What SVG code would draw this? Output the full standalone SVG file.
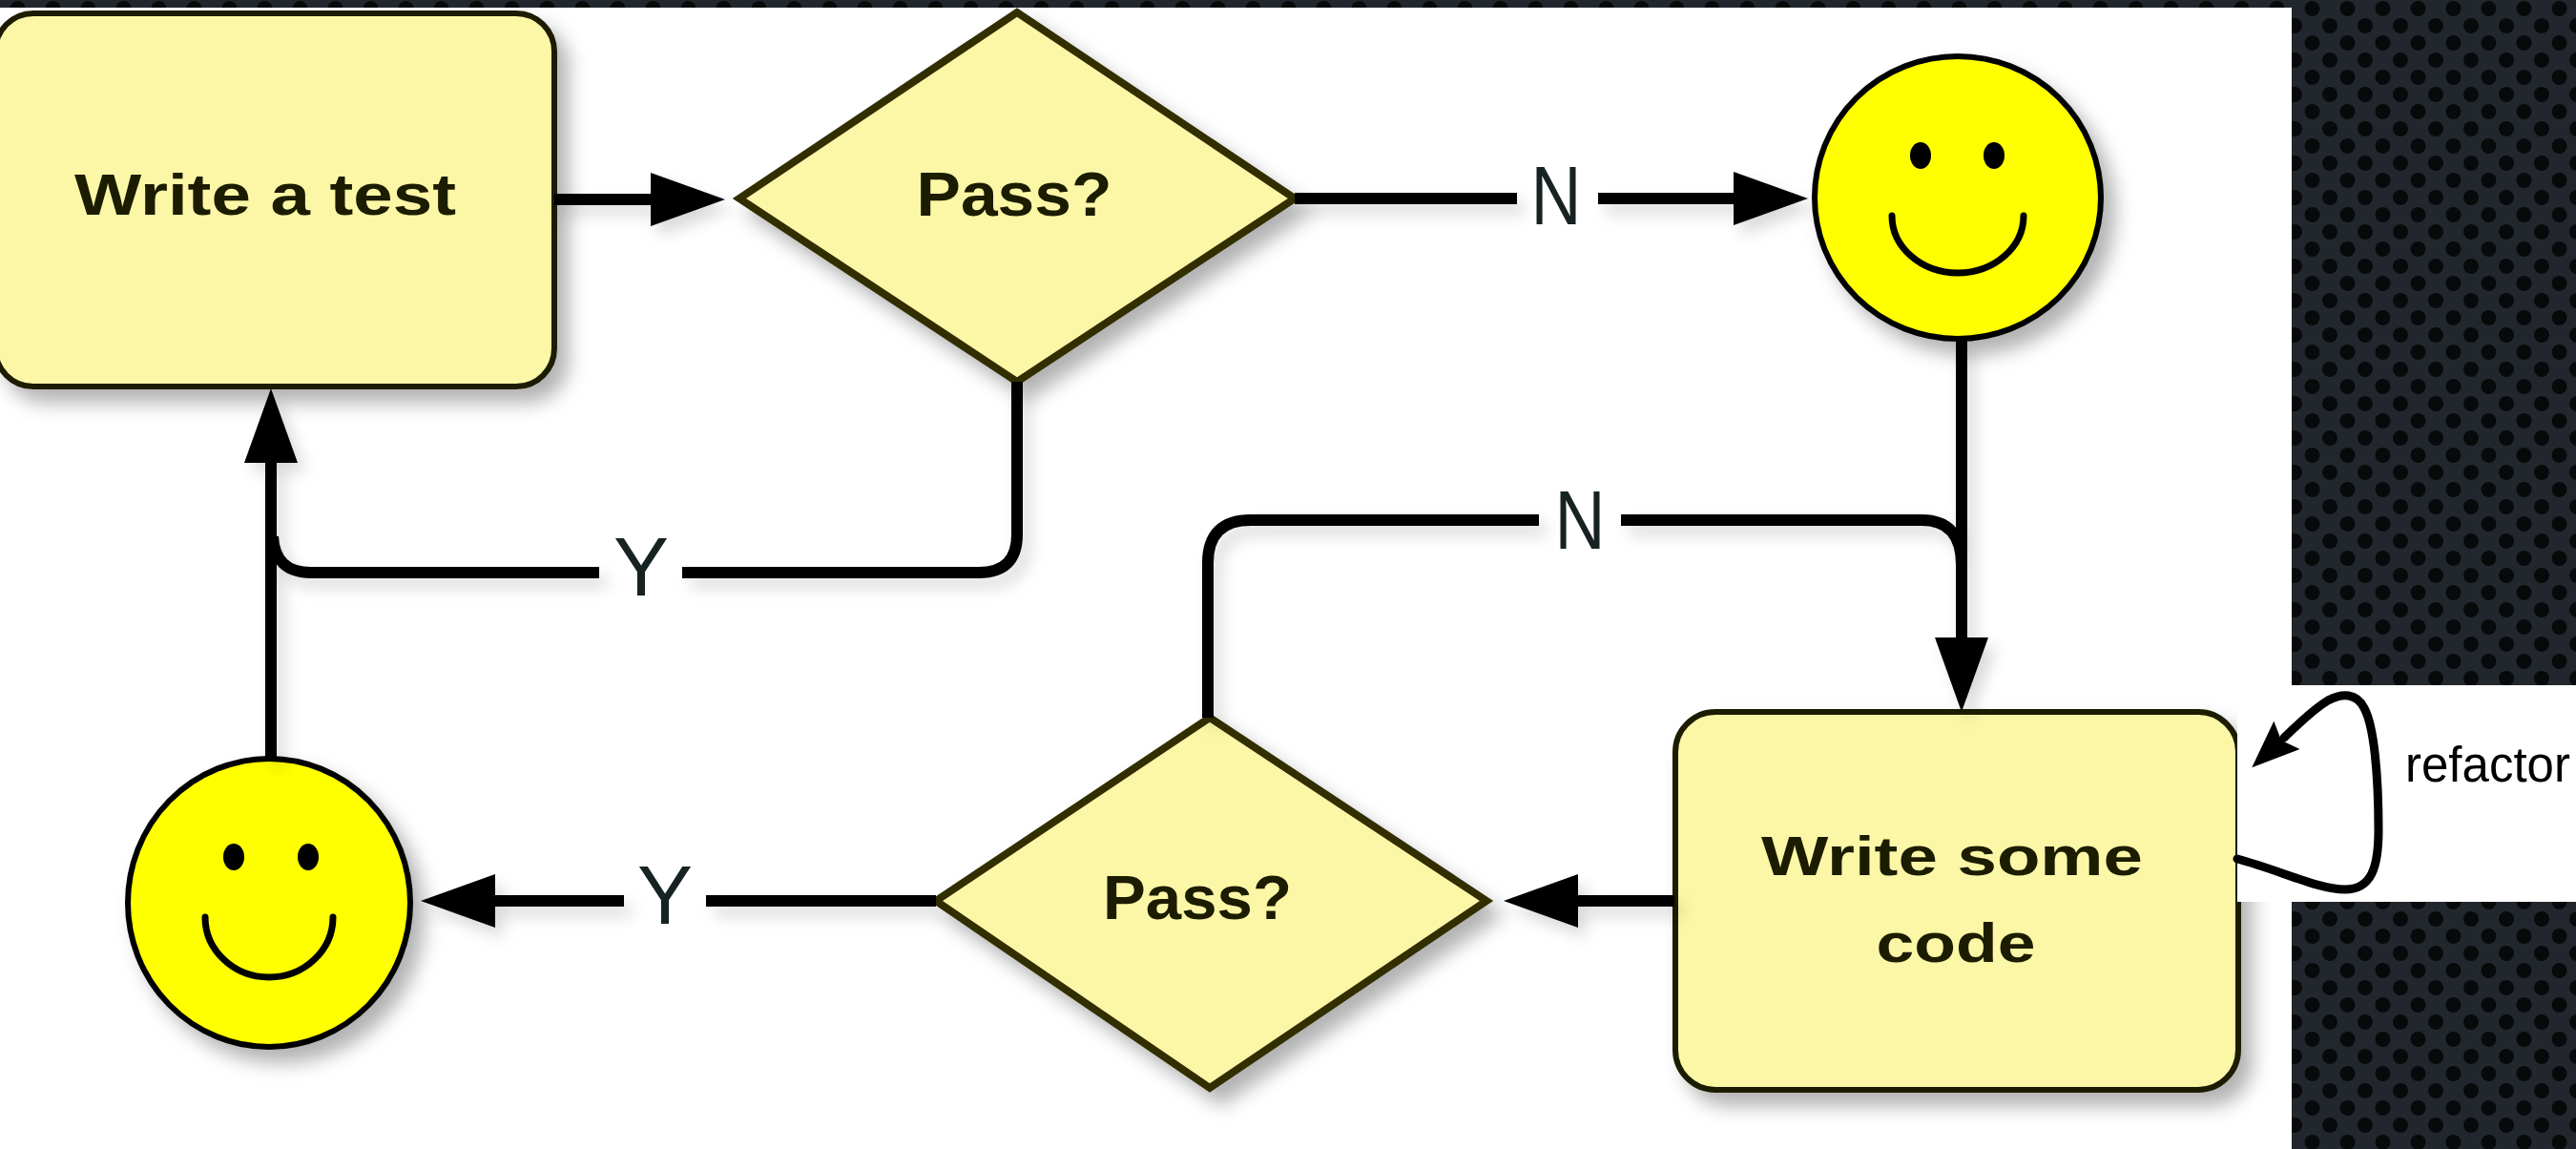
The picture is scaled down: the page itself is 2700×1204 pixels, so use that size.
<svg xmlns="http://www.w3.org/2000/svg" width="2700" height="1204" viewBox="0 0 2700 1204">
<style>
.box{fill:#fbf7a6;stroke:#1e1e06;stroke-width:6}
.dia{fill:#fbf7a6;stroke:#302e04;stroke-width:8;stroke-linejoin:miter}
.face{fill:#ffff00;stroke:#000;stroke-width:6}
.eye{fill:#000}
.smile{fill:none;stroke:#000;stroke-width:7;stroke-linecap:round}
.ntext{font-family:"Liberation Sans",Arial,Helvetica,sans-serif;font-weight:bold;fill:#1a1a04;text-anchor:middle}
.lbl{font-family:"Liberation Sans",Arial,Helvetica,sans-serif;font-size:88px;fill:#172222;text-anchor:middle}
.con{fill:none;stroke:#000;stroke-width:12;stroke-linejoin:round}
.loop{fill:none;stroke:#000;stroke-width:9;stroke-linecap:round}
</style>
<defs>
<pattern id="mesh" width="37" height="36" patternUnits="userSpaceOnUse">
<rect width="37" height="36" fill="#22272d"/>
<circle cx="18.5" cy="9" r="8" fill="#07090b"/>
<circle cx="0" cy="27" r="8" fill="#07090b"/>
<circle cx="37" cy="27" r="8" fill="#07090b"/>
</pattern>
<filter id="sh" x="-20%" y="-20%" width="150%" height="150%">
<feDropShadow dx="12" dy="14" stdDeviation="10" flood-color="#000" flood-opacity="0.3"/>
</filter>
<filter id="shl" x="-20%" y="-20%" width="150%" height="150%">
<feDropShadow dx="8" dy="10" stdDeviation="8" flood-color="#000" flood-opacity="0.15"/>
</filter>
<marker id="ah" markerUnits="userSpaceOnUse" viewBox="0 0 78 56" refX="0" refY="28" markerWidth="78" markerHeight="56" orient="auto">
<path d="M0,0 L78,28 L0,56 z" fill="#000"/>
</marker>
<marker id="ah2" markerUnits="userSpaceOnUse" viewBox="0 0 50 40" refX="4" refY="20" markerWidth="50" markerHeight="40" orient="auto">
<path d="M0,0 L50,20 L0,40 L8,20 z" fill="#000"/>
</marker>
</defs>

<!-- background -->
<rect x="0" y="0" width="2700" height="1204" fill="url(#mesh)"/>
<rect x="0" y="8" width="2402" height="1196" fill="#ffffff"/>

<!-- nodes -->
<g id="write-test" filter="url(#sh)">
<rect class="box" x="-5" y="14" width="586" height="391" rx="40" ry="40"/>
<text class="ntext" x="278" y="225" font-size="62" textLength="400" lengthAdjust="spacingAndGlyphs">Write a test</text>
</g>
<g id="pass-top" filter="url(#sh)">
<polygon class="dia" points="1066,13 1357,208 1066,400 775,208"/>
<text class="ntext" x="1063" y="226" font-size="64" textLength="205" lengthAdjust="spacingAndGlyphs">Pass?</text>
</g>
<g id="smiley-top" filter="url(#sh)">
<ellipse class="face" cx="2052" cy="207" rx="150" ry="148"/>
<ellipse class="eye" cx="2013" cy="163" rx="11" ry="14"/>
<ellipse class="eye" cx="2090" cy="163" rx="11" ry="14"/>
<path class="smile" d="M1983 226 A69 60 0 0 0 2121 226"/>
</g>
<g id="write-code" filter="url(#sh)">
<rect class="box" x="1756" y="746" width="590" height="396" rx="42" ry="42"/>
<text class="ntext" x="2046" y="917" font-size="57" textLength="400" lengthAdjust="spacingAndGlyphs">Write some</text>
<text class="ntext" x="2050" y="1008" font-size="57" textLength="167" lengthAdjust="spacingAndGlyphs">code</text>
</g>
<g id="pass-bottom" filter="url(#sh)">
<polygon class="dia" points="1268,752 1558,944 1268,1140 981,944"/>
<text class="ntext" x="1255" y="963" font-size="64" textLength="198" lengthAdjust="spacingAndGlyphs">Pass?</text>
</g>
<g id="smiley-bottom" filter="url(#sh)">
<ellipse class="face" cx="282" cy="946" rx="148" ry="151"/>
<ellipse class="eye" cx="245" cy="898" rx="11" ry="14"/>
<ellipse class="eye" cx="323" cy="898" rx="11" ry="14"/>
<path class="smile" d="M215 961 A67 63 0 0 0 349 961"/>
</g>

<!-- refactor label area -->
<rect x="2345" y="718" width="355" height="227" fill="#ffffff"/>

<!-- connectors -->
<g id="connectors">
<g filter="url(#shl)">
<path class="con" d="M581 209 H682" marker-end="url(#ah)"/>
<path class="con" d="M1357 208 H1590"/>
<path class="con" d="M1675 208 H1817" marker-end="url(#ah)"/>
<path class="con" d="M2056 355 V668" marker-end="url(#ah)"/>
<path class="con" d="M1266 752 V590 Q1266 545 1311 545 H1613"/>
<path class="con" d="M1699 545 H2014 Q2056 545 2056 592"/>
<path class="con" d="M1755 944 H1654" marker-end="url(#ah)"/>
<path class="con" d="M981 944 H740"/>
<path class="con" d="M654 944 H519" marker-end="url(#ah)"/>
<path class="con" d="M1066 400 V560 Q1066 600 1026 600 H715"/>
<path class="con" d="M628 600 H326 Q288 600 286 562"/>
<path class="con" d="M284 794 V485" marker-end="url(#ah)"/>
</g>
<text class="lbl" x="1631" y="235" textLength="53" lengthAdjust="spacingAndGlyphs">N</text>
<text class="lbl" x="1656" y="575" textLength="53" lengthAdjust="spacingAndGlyphs">N</text>
<text class="lbl" x="672" y="624" textLength="58" lengthAdjust="spacingAndGlyphs">Y</text>
<text class="lbl" x="697" y="968" textLength="58" lengthAdjust="spacingAndGlyphs">Y</text>
<path class="loop" d="M2345 900 C2390 912 2430 932 2458 932 C2485 932 2493 910 2493 870 C2493 810 2488 760 2478 742 C2470 726 2455 726 2440 734 C2422 745 2408 760 2394 773" marker-end="url(#ah2)"/>
<text x="2521" y="819" font-family="'Liberation Sans',Arial,Helvetica,sans-serif" font-size="51" fill="#000">refactor</text>
</g>
</svg>
